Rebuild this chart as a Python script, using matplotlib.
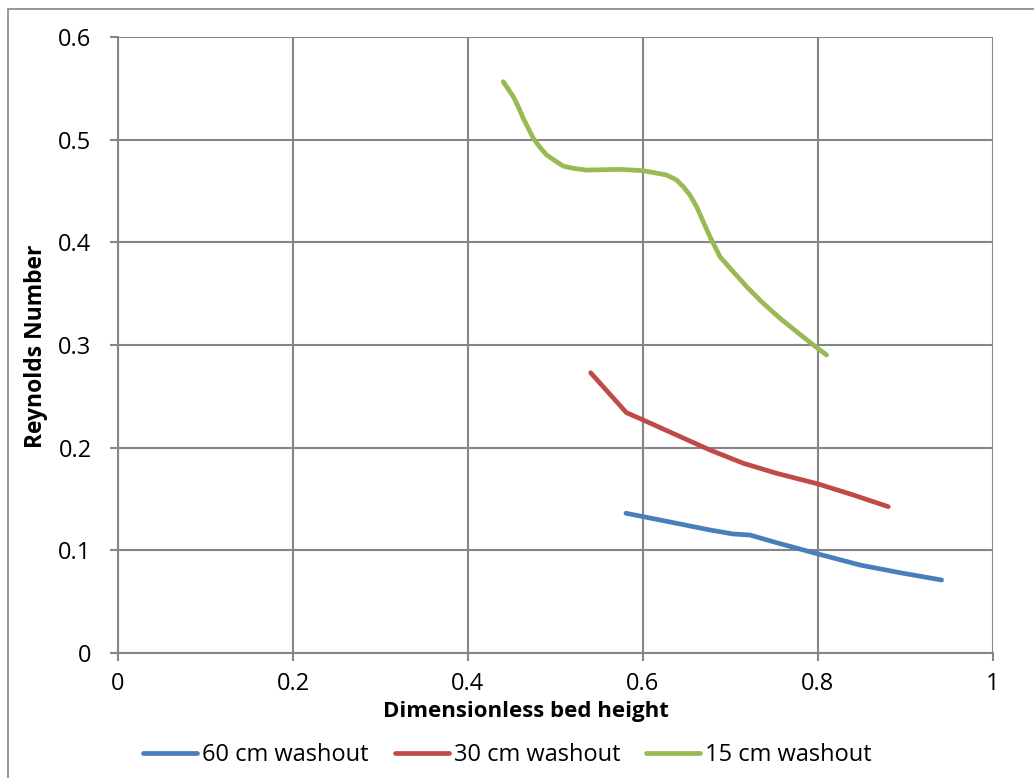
import matplotlib.pyplot as plt
from matplotlib.patches import Rectangle

plt.rcParams['font.family'] = ['Open Sans', 'DejaVu Sans']

# 60 cm washout
x60 = [0.5806, 0.6004, 0.6385, 0.6766, 0.7032, 0.7223, 0.7528, 0.8004, 0.848, 0.8937, 0.9413]
y60 = [0.1361, 0.1328, 0.1263, 0.1198, 0.1159, 0.1149, 0.1074, 0.0964, 0.0857, 0.0782, 0.0711]

# 30 cm washout
x30 = [0.5402, 0.5811, 0.6004, 0.6385, 0.6766, 0.7147, 0.7528, 0.8004, 0.8404, 0.8804]
y30 = [0.2730, 0.2341, 0.2269, 0.2123, 0.1977, 0.1848, 0.1750, 0.1646, 0.1539, 0.1425]

# 15 cm washout
x15 = [0.4403, 0.4518, 0.4575, 0.4632, 0.469, 0.4747, 0.4823, 0.4899, 0.5013, 0.5089,
       0.5204, 0.5356, 0.5737, 0.6004, 0.6271, 0.6385, 0.6461, 0.6537, 0.6613, 0.6689,
       0.6766, 0.688, 0.7032, 0.7185, 0.7375, 0.7566, 0.7756, 0.7947, 0.8099]
y15 = [0.5565, 0.5419, 0.5321, 0.5208, 0.511, 0.5013, 0.4925, 0.4851, 0.4785, 0.4743,
       0.4721, 0.4704, 0.4711, 0.4698, 0.4656, 0.4607, 0.4542, 0.4461, 0.4347, 0.4201,
       0.4055, 0.386, 0.3714, 0.3568, 0.3406, 0.326, 0.3130, 0.300, 0.2903]

labels = ['60 cm washout', '30 cm washout', '15 cm washout']
colors = ['#4A7EBB', '#BE4B48', '#98B954']
xticks = [0, 0.2, 0.4, 0.6, 0.8, 1]
yticks = [0, 0.1, 0.2, 0.3, 0.4, 0.5, 0.6]

fig = plt.figure(figsize=(10.34, 7.78), dpi=100)
ax = fig.add_axes([0.1141, 0.1607, 0.8462, 0.7917])

for xs, ys, lab, c in zip([x60, x30, x15], [y60, y30, y15], labels, colors):
    ax.plot(xs, ys, color=c, lw=3.4, label=lab, solid_capstyle='round',
            solid_joinstyle='round', zorder=3)

ax.set_xlim(0, 1)
ax.set_ylim(0, 0.6)
ax.set_xticks(xticks)
ax.set_yticks(yticks)
ax.set_xticklabels(['0', '0.2', '0.4', '0.6', '0.8', '1'])
ax.set_yticklabels(['0', '0.1', '0.2', '0.3', '0.4', '0.5', '0.6'])
ax.grid(True, color='#868686', lw=1.5)
ax.set_axisbelow(True)
for s in ['top', 'right']:
    ax.spines[s].set_visible(False)
for s in ['left', 'bottom']:
    ax.spines[s].set_color('#868686')
    ax.spines[s].set_linewidth(1.5)
ax.tick_params(axis='both', labelsize=17, colors='#868686', labelcolor='black',
               length=6, width=1.5)
ax.tick_params(axis='x', pad=8)
ax.tick_params(axis='y', pad=13)

ax.set_xlabel('Dimensionless bed height', fontsize=16, fontweight='bold')
ax.xaxis.set_label_coords(0.466, -0.078)
ax.set_ylabel('Reynolds Number', fontsize=16.5, fontweight='bold')
ax.yaxis.set_label_coords(-0.08, 0.498)

ax.legend(loc='center', bbox_to_anchor=(0.445, -0.166), ncol=3, frameon=False,
          fontsize=17, handlelength=2.3, handletextpad=0.2, columnspacing=1.1)

fig.patches.append(Rectangle((0.0077, -0.1), 1.2, 1.0884, transform=fig.transFigure,
                             fill=False, edgecolor='#868686', lw=1.2))

fig.savefig('out.png', dpi=100)
